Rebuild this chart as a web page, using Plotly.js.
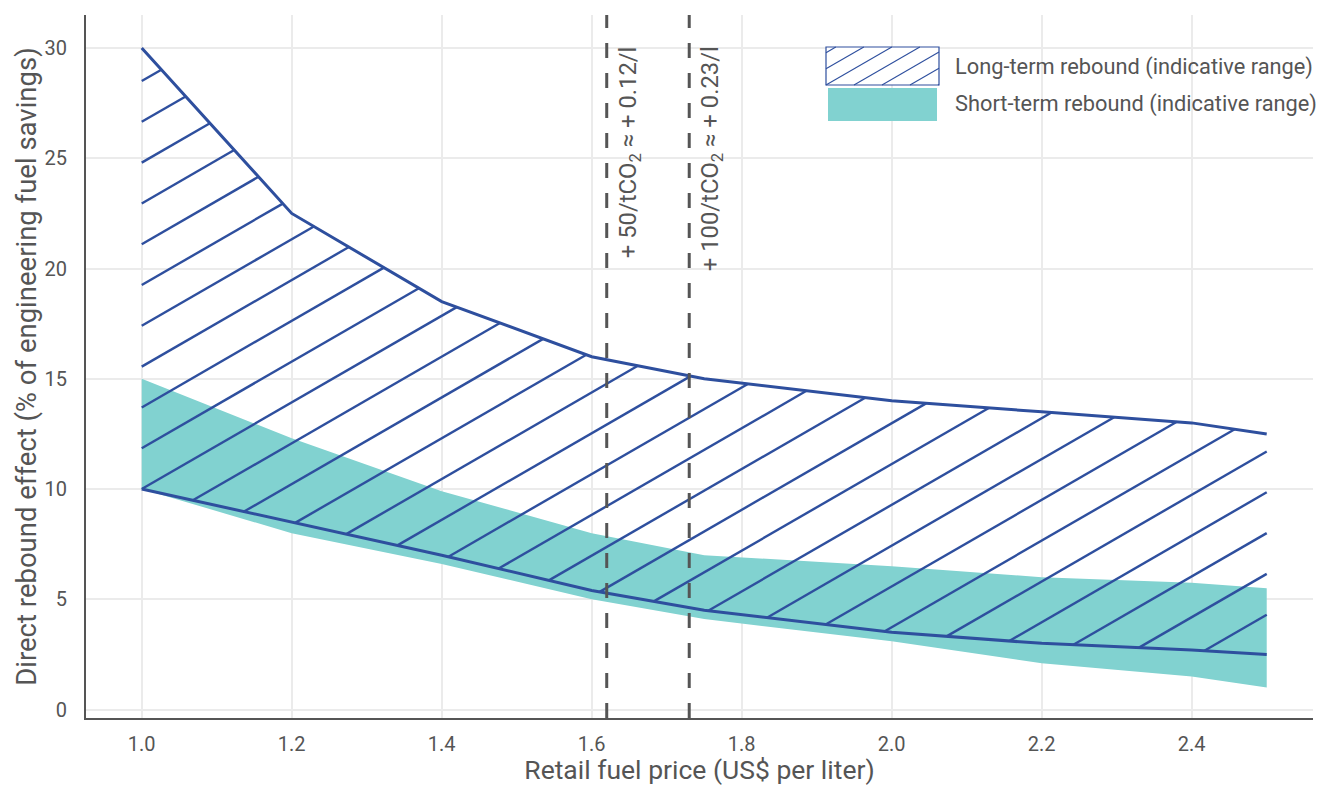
<!DOCTYPE html>
<html>
<head>
<meta charset="utf-8">
<script src="https://cdn.plot.ly/plotly-3.0.1.min.js"></script>
<style>html,body{margin:0;padding:0;background:#fff;}#chart{width:1317px;height:785px;}</style>
</head>
<body>
<div id="chart"></div>
<script>
// ---- data ----
const fuelPrice   = [1.0, 1.2, 1.4, 1.6, 1.75, 2.0, 2.2, 2.4, 2.5];
const longUpper   = [30, 22.5, 18.5, 16.0, 15.0, 14.0, 13.5, 13.0, 12.5];
const longLower   = [10, 8.5, 7.0, 5.4, 4.5, 3.5, 3.0, 2.7, 2.5];
const shortUpper  = [15, 12.3, 9.9, 8.0, 7.0, 6.5, 6.0, 5.75, 5.5];
const shortLower  = [10, 8.0, 6.6, 5.0, 4.1, 3.1, 2.1, 1.5, 1.0];
const carbonPrice = [1.62, 1.73];
const carbonLabel = ['+ 50/tCO<sub>2</sub> ≈ + 0.12/l', '+ 100/tCO<sub>2</sub> ≈ + 0.23/l'];
const xTicks      = [1.0, 1.2, 1.4, 1.6, 1.8, 2.0, 2.2, 2.4];
const yTicks      = [0, 5, 10, 15, 20, 25, 30];
const legendNames = ['Long-term rebound (indicative range)', 'Short-term rebound (indicative range)'];

// ---- styling / layout ----
const W = 1317, H = 785;
const M = {l: 86, r: 4, t: 15, b: 67};
const PW = W - M.l - M.r, PH = H - M.t - M.b;
const xRange = [0.9257, 2.5617];
const yRange = [-0.385, 31.5];
const BLUE = '#2e4f9e';
const TEAL = '#81d2d0';
const GREY = '#555555';
const FONT = 'Roboto, "Open Sans", sans-serif';

const pxPerX = PW / (xRange[1] - xRange[0]);
const pxPerY = PH / (yRange[1] - yRange[0]);

function interp(xs, ys, x) {
  if (x <= xs[0]) return ys[0];
  for (let i = 1; i < xs.length; i++) {
    if (x <= xs[i]) {
      const t = (x - xs[i-1]) / (xs[i] - xs[i-1]);
      return ys[i-1] + t * (ys[i] - ys[i-1]);
    }
  }
  return ys[ys.length - 1];
}
function root(fn, a, b) {
  let fa = fn(a);
  for (let i = 0; i < 60; i++) {
    const m = (a + b) / 2, fm = fn(m);
    if ((fm >= 0) === (fa >= 0)) { a = m; fa = fm; } else { b = m; }
  }
  return (a + b) / 2;
}

// hatch for the long-term band: 30 degree lines, 40.8 px vertical spacing
const hatchAngle = 30 * Math.PI / 180;
const K = Math.tan(hatchAngle) * pxPerX / pxPerY;   // data slope
const S = 40.8 / pxPerY;                              // data vertical spacing
const x0 = fuelPrice[0], x1 = fuelPrice[fuelPrice.length - 1];
const hx = [], hy = [];
for (let j = -40; j <= 40; j++) {
  const line = x => longLower[0] + K * (x - x0) + S * j;
  const f = x => line(x) - interp(fuelPrice, longLower, x);
  const g = x => line(x) - interp(fuelPrice, longUpper, x);
  if (f(x1) <= 0 || g(x0) >= 0) continue;
  const xa = f(x0) >= 0 ? x0 : root(f, x0, x1);
  const xb = g(x1) <= 0 ? x1 : root(g, x0, x1);
  if (xb - xa < 1e-4) continue;
  hx.push(xa, xb, null);
  hy.push(line(xa), line(xb), null);
}

const traces = [
  {x: fuelPrice, y: shortLower, type: 'scatter', mode: 'lines', line: {width: 0, color: TEAL}, showlegend: false, hoverinfo: 'skip'},
  {x: fuelPrice, y: shortUpper, type: 'scatter', mode: 'lines', fill: 'tonexty', fillcolor: TEAL, line: {width: 0, color: TEAL}, name: legendNames[1], showlegend: false},
  {x: hx, y: hy, type: 'scatter', mode: 'lines', line: {width: 2.4, color: BLUE}, showlegend: false, hoverinfo: 'skip', connectgaps: false},
  {x: fuelPrice, y: longUpper, type: 'scatter', mode: 'lines', line: {width: 3, color: BLUE}, name: legendNames[0], showlegend: false},
  {x: fuelPrice, y: longLower, type: 'scatter', mode: 'lines', line: {width: 3, color: BLUE}, showlegend: false}
];

// ---- manual legend (pixel geometry -> paper) ----
const px2paperX = p => (p - M.l) / PW;
const px2paperY = p => (H - M.b - p) / PH;
const shapes = [];
const annotations = [];

carbonPrice.forEach((c, i) => {
  shapes.push({type: 'line', xref: 'x', yref: 'paper', x0: c, x1: c, y0: 0, y1: 1,
    line: {color: GREY, width: 3, dash: '15px,15px'}, layer: 'above'});
  annotations.push({x: c, xref: 'x', y: px2paperY(44), yref: 'paper', text: carbonLabel[i],
    textangle: -90, xanchor: 'left', yanchor: 'top', xshift: 5, showarrow: false,
    font: {family: FONT, size: 23.8, color: GREY}});
});

// legend box 1: hatched
const lb = {x0: 826, x1: 939, y0: 47, y1: 85};
shapes.push({type: 'rect', xref: 'paper', yref: 'paper',
  x0: px2paperX(lb.x0), x1: px2paperX(lb.x1), y0: px2paperY(lb.y1), y1: px2paperY(lb.y0),
  line: {color: BLUE, width: 1.2}, fillcolor: 'white', layer: 'above'});
const lt = Math.tan(hatchAngle);
for (let j = -3; j <= 5; j++) {
  const bx = lb.x0 + 28 * j;
  let xa = Math.max(lb.x0, bx);
  let xb = Math.min(lb.x1, bx + (lb.y1 - lb.y0) / lt);
  if (xb - xa < 0.5) continue;
  const ya = lb.y1 - lt * (xa - bx), yb = lb.y1 - lt * (xb - bx);
  shapes.push({type: 'line', xref: 'paper', yref: 'paper',
    x0: px2paperX(xa), y0: px2paperY(ya), x1: px2paperX(xb), y1: px2paperY(yb),
    line: {color: BLUE, width: 1.1}, layer: 'above'});
}
// legend box 2: teal
shapes.push({type: 'rect', xref: 'paper', yref: 'paper',
  x0: px2paperX(828), x1: px2paperX(937), y0: px2paperY(121), y1: px2paperY(88),
  line: {width: 0}, fillcolor: TEAL, layer: 'above'});
[67, 104].forEach((cy, i) => {
  annotations.push({x: px2paperX(953), xref: 'paper', y: px2paperY(cy), yref: 'paper',
    text: legendNames[i], xanchor: 'left', yanchor: 'middle', showarrow: false,
    font: {family: FONT, size: 21.8, color: GREY}});
});

const axisCommon = {
  showgrid: true, gridcolor: '#ebebeb', gridwidth: 2,
  showline: true, linecolor: GREY, linewidth: 2,
  zeroline: false, ticks: '', fixedrange: true,
  tickfont: {family: FONT, size: 20, color: GREY}
};

const layout = {
  width: W, height: H,
  margin: M,
  paper_bgcolor: 'white', plot_bgcolor: 'white',
  font: {family: FONT, color: GREY},
  showlegend: false,
  xaxis: Object.assign({}, axisCommon, {
    range: xRange, tickvals: xTicks, ticktext: xTicks.map(v => v.toFixed(1)),
    ticklabelstandoff: 7,
    title: {text: 'Retail fuel price (US$ per liter)', font: {family: FONT, size: 26.5, color: GREY}, standoff: 13}
  }),
  yaxis: Object.assign({}, axisCommon, {
    range: yRange, tickvals: yTicks, ticktext: yTicks.map(String),
    ticklabelstandoff: 13,
    title: {text: 'Direct rebound effect (% of engineering fuel savings)', font: {family: FONT, size: 27.5, color: GREY}, standoff: 0}
  }),
  shapes: shapes,
  annotations: annotations
};

Plotly.newPlot('chart', traces, layout, {displayModeBar: false, staticPlot: true});
</script>
</body>
</html>
